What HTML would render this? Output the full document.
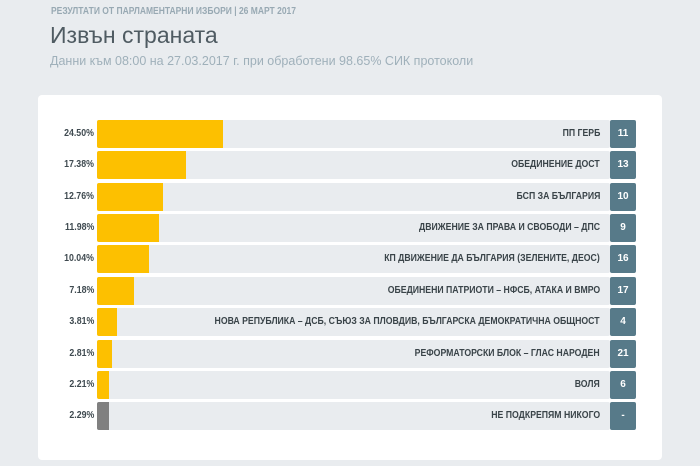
<!DOCTYPE html>
<html><head><meta charset="utf-8"><style>
body{margin:0;width:700px;height:466px;background:#e9ecef;position:relative;overflow:hidden;font-family:"Liberation Sans","Noto Sans CJK SC",sans-serif}
.sup{position:absolute;left:51px;top:6px;font-size:10px;font-weight:bold;color:#98a9b3;transform:scaleX(0.85);transform-origin:left top;white-space:nowrap}
.t{position:absolute;left:50px;top:22px;font-size:23px;color:#4f5b62}
.s{position:absolute;left:50px;top:54px;font-size:12.5px;color:#9fb0ba}
.card{position:absolute;left:38px;top:95px;width:624px;height:365px;background:#fff;border-radius:4px}
.row{position:absolute;left:0;height:28px;width:700px}
.pct{position:absolute;right:606px;top:8px;font-size:10px;font-weight:bold;color:#3f4a50;transform:scaleX(0.88);transform-origin:right top}
.tr{position:absolute;left:97px;top:0;width:513px;height:28px;background:#e9ecef;border-radius:2px}
.b{position:absolute;left:97px;top:0;height:28px;background:#fdc000;border-radius:2px 0 0 2px}
.l{position:absolute;right:100px;top:8px;font-size:10px;font-weight:bold;color:#3a4449;white-space:nowrap;transform:scaleX(0.87);transform-origin:right top}
.n{position:absolute;left:610px;top:0;width:26px;height:28px;background:#577a89;border-radius:2px;color:#fff;font-size:10px;font-weight:bold;text-align:center;line-height:28px}
</style></head><body>
<div class="sup">РЕЗУЛТАТИ ОТ ПАРЛАМЕНТАРНИ ИЗБОРИ | 26 МАРТ 2017</div>
<div class="t">Извън страната</div>
<div class="s">Данни към 08:00 на 27.03.2017 г. при обработени 98.65% СИК протоколи</div>
<div class="card"></div>
<div class="row" style="top:120px"><div class="pct">24.50%</div><div class="tr"></div><div class="b" style="width:126px"></div><div class="l">ПП ГЕРБ</div><div class="n">11</div></div>
<div class="row" style="top:151px"><div class="pct">17.38%</div><div class="tr"></div><div class="b" style="width:89px"></div><div class="l">ОБЕДИНЕНИЕ ДОСТ</div><div class="n">13</div></div>
<div class="row" style="top:183px"><div class="pct">12.76%</div><div class="tr"></div><div class="b" style="width:66px"></div><div class="l">БСП ЗА БЪЛГАРИЯ</div><div class="n">10</div></div>
<div class="row" style="top:214px"><div class="pct">11.98%</div><div class="tr"></div><div class="b" style="width:62px"></div><div class="l">ДВИЖЕНИЕ ЗА ПРАВА И СВОБОДИ – ДПС</div><div class="n">9</div></div>
<div class="row" style="top:245px"><div class="pct">10.04%</div><div class="tr"></div><div class="b" style="width:52px"></div><div class="l">КП ДВИЖЕНИЕ ДА БЪЛГАРИЯ (ЗЕЛЕНИТЕ, ДЕОС)</div><div class="n">16</div></div>
<div class="row" style="top:277px"><div class="pct">7.18%</div><div class="tr"></div><div class="b" style="width:37px"></div><div class="l">ОБЕДИНЕНИ ПАТРИОТИ – НФСБ, АТАКА И ВМРО</div><div class="n">17</div></div>
<div class="row" style="top:308px"><div class="pct">3.81%</div><div class="tr"></div><div class="b" style="width:20px"></div><div class="l">НОВА РЕПУБЛИКА – ДСБ, СЪЮЗ ЗА ПЛОВДИВ, БЪЛГАРСКА ДЕМОКРАТИЧНА ОБЩНОСТ</div><div class="n">4</div></div>
<div class="row" style="top:340px"><div class="pct">2.81%</div><div class="tr"></div><div class="b" style="width:15px"></div><div class="l">РЕФОРМАТОРСКИ БЛОК – ГЛАС НАРОДЕН</div><div class="n">21</div></div>
<div class="row" style="top:371px"><div class="pct">2.21%</div><div class="tr"></div><div class="b" style="width:12px"></div><div class="l">ВОЛЯ</div><div class="n">6</div></div>
<div class="row" style="top:402px"><div class="pct">2.29%</div><div class="tr"></div><div class="b" style="width:12px;background:#808080"></div><div class="l">НЕ ПОДКРЕПЯМ НИКОГО</div><div class="n">-</div></div>
</body></html>
